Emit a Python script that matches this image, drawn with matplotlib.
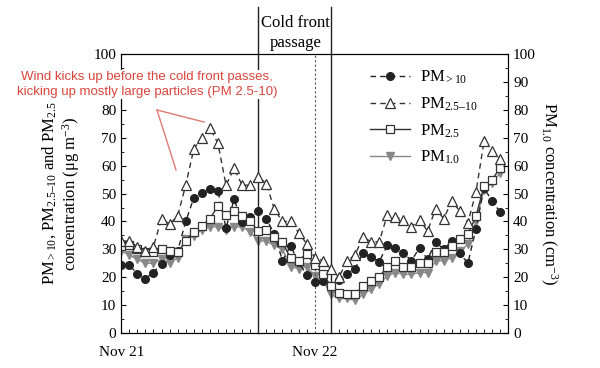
import matplotlib
matplotlib.use("Agg")
import matplotlib.pyplot as plt
import numpy as np
from matplotlib.ticker import MultipleLocator

# hourly values, Nov 21 00:00 -> Nov 22 23:00
hours = np.arange(48)
pm_gt10 = [24.3, 24.3, 21.3, 19.5, 21.7, 24.9, 27.9, 29.4, 40.0, 48.4,
           50.2, 51.8, 50.8, 37.7, 47.9, 39.9, 41.5, 43.7, 41.0, 35.4,
           26.0, 31.2, 25.5, 20.8, 18.3, 18.7, 17.0, 19.0, 21.3, 23.1,
           28.6, 27.3, 25.6, 31.4, 30.4, 28.6, 26.0, 30.5, 26.4, 32.7,
           30.0, 33.0, 28.6, 25.0, 37.4, 52.0, 47.3, 43.4]
pm_25_10 = [33.0, 33.0, 31.0, 29.4, 31.0, 41.0, 39.0, 42.0, 53.0, 66.0,
            70.0, 73.5, 68.0, 53.0, 59.0, 53.0, 53.0, 56.0, 53.6, 44.3,
            40.0, 40.0, 36.0, 32.0, 27.0, 26.0, 23.0, 20.0, 25.8, 28.0,
            34.4, 32.7, 32.7, 42.3, 41.5, 40.7, 38.0, 40.7, 36.5, 44.6,
            41.0, 47.3, 43.7, 39.5, 50.5, 68.7, 65.4, 62.4]
pm_25 = [31.2, 31.7, 30.0, 29.0, 29.0, 30.0, 29.4, 29.0, 33.0, 36.2,
         38.3, 41.0, 45.5, 42.3, 43.7, 41.9, 40.1, 36.5, 36.9, 34.4,
         32.6, 26.8, 26.0, 28.5, 24.3, 21.3, 16.9, 14.5, 13.9, 13.9,
         16.9, 18.7, 20.1, 23.8, 25.8, 23.8, 23.8, 25.0, 25.2, 29.0,
         29.0, 31.2, 33.6, 35.4, 41.9, 52.6, 55.0, 59.2]
pm_10 = [29.4, 28.0, 26.4, 25.0, 25.0, 26.4, 25.0, 27.0, 33.6, 34.8,
         37.1, 38.1, 38.1, 37.1, 38.1, 38.0, 36.3, 33.0, 33.0, 31.4,
         30.0, 23.8, 23.1, 23.8, 20.5, 18.9, 13.9, 12.4, 12.4, 11.7,
         13.9, 15.7, 17.7, 20.5, 21.7, 21.1, 21.0, 21.7, 21.7, 25.8,
         26.0, 27.0, 29.4, 31.8, 40.1, 51.4, 53.8, 57.5]
front_start, front_end, front_mid = 17, 26, 24
day_ticks = [0, 24]
day_labels = ["Nov 21", "Nov 22"]
left_ticks = [0, 10, 20, 30, 40, 50, 60, 70, 80, 90, 100]
# 90 sits under the red note in the original
left_labels = ["0", "10", "20", "30", "40", "50", "60", "70", "80", "", "100"]

serif = "Liberation Serif"
plt.rcParams["font.family"] = serif
plt.rcParams["mathtext.fontset"] = "custom"
plt.rcParams["mathtext.rm"] = serif
plt.rcParams["mathtext.it"] = serif + ":italic"
plt.rcParams["mathtext.default"] = "rm"

fig = plt.figure(figsize=(6, 3.68), dpi=100)
ax = fig.add_axes([0.202, 0.095, 0.645, 0.758])

ax.plot(hours, pm_gt10, ls=(0, (4, 3)), color="#222222", lw=1, marker="o",
        ms=5.5, mfc="#222222", mec="#222222", label="PM$_{{>}10}$", zorder=3)
ax.plot(hours, pm_25_10, ls=(0, (4, 3)), color="#333333", lw=1, marker="^",
        ms=6.5, mfc="white", mec="#333333", mew=0.9, label="PM$_{2.5\u201310}$", zorder=4)
ax.plot(hours, pm_10, ls="-", color="#888888", lw=1, marker="v",
        ms=6, mfc="#888888", mec="#888888", label="PM$_{1.0}$", zorder=2)
ax.plot(hours, pm_25, ls="-", color="#333333", lw=1, marker="s",
        ms=5.5, mfc="white", mec="#333333", mew=0.9, label="PM$_{2.5}$", zorder=3)

ax.set_xlim(0, 48)
ax.set_ylim(0, 100)
ax.axvline(front_mid, color="#555555", ls=(0, (2, 2)), lw=0.8)
for xv in (front_start, front_end):
    ax.axvline(xv, ymin=0, ymax=1.17, color="#222222", lw=1, clip_on=False)

ax.set_xticks(day_ticks)
ax.set_xticklabels(day_labels, fontsize=11)
ax.xaxis.set_minor_locator(MultipleLocator(1))
ax.set_yticks(left_ticks)
ax.set_yticklabels(left_labels)
ax.yaxis.set_minor_locator(MultipleLocator(5))
ax.tick_params(which="both", direction="in", labelsize=11)
ax.tick_params(axis="y", which="both", left=True, right=True)
ax.tick_params(axis="x", which="minor", length=3)
ax.tick_params(axis="x", which="major", length=0, pad=9)

ax2 = ax.twinx()
ax2.set_ylim(0, 100)
ax2.yaxis.set_major_locator(MultipleLocator(10))
ax2.yaxis.set_minor_locator(MultipleLocator(5))
ax2.tick_params(which="both", direction="in", labelsize=11)
ax2.set_ylabel("PM$_{1.0}$ concentration (cm$^{-3}$)", rotation=270,
               fontsize=12, labelpad=17)

ax.set_ylabel("PM$_{{>}10}$, PM$_{2.5\u201310}$ and PM$_{2.5}$\nconcentration (\u03bcg m$^{-3}$)",
              fontsize=12, labelpad=8, linespacing=1.15)

handles, labels = ax.get_legend_handles_labels()
order = [0, 1, 3, 2]
ax.legend([handles[i] for i in order], [labels[i] for i in order],
          loc="upper right", bbox_to_anchor=(0.96, 1.0), frameon=False,
          fontsize=12, handlelength=2.4, labelspacing=0.55, handletextpad=0.6)

fig.text(0.493, 0.91, "Cold front\npassage", ha="center", va="center",
         fontsize=12, linespacing=1.35)

red = "#d9453c"
fig.text(0.245, 0.77, "Wind kicks up before the cold front passes,\nkicking up mostly large particles (PM 2.5-10)",
         ha="center", va="center", color=red, fontsize=9.5,
         family="Liberation Sans", linespacing=1.3, zorder=10,
         bbox=dict(fc="white", ec="none", pad=1))
tip = (157, 110)
for end in [(204, 122), (176, 170)]:
    fig.add_artist(plt.Line2D([tip[0] / 600, end[0] / 600],
                              [1 - tip[1] / 368, 1 - end[1] / 368],
                              color="#e07a70", lw=1))

fig.savefig("out.png", dpi=100)
